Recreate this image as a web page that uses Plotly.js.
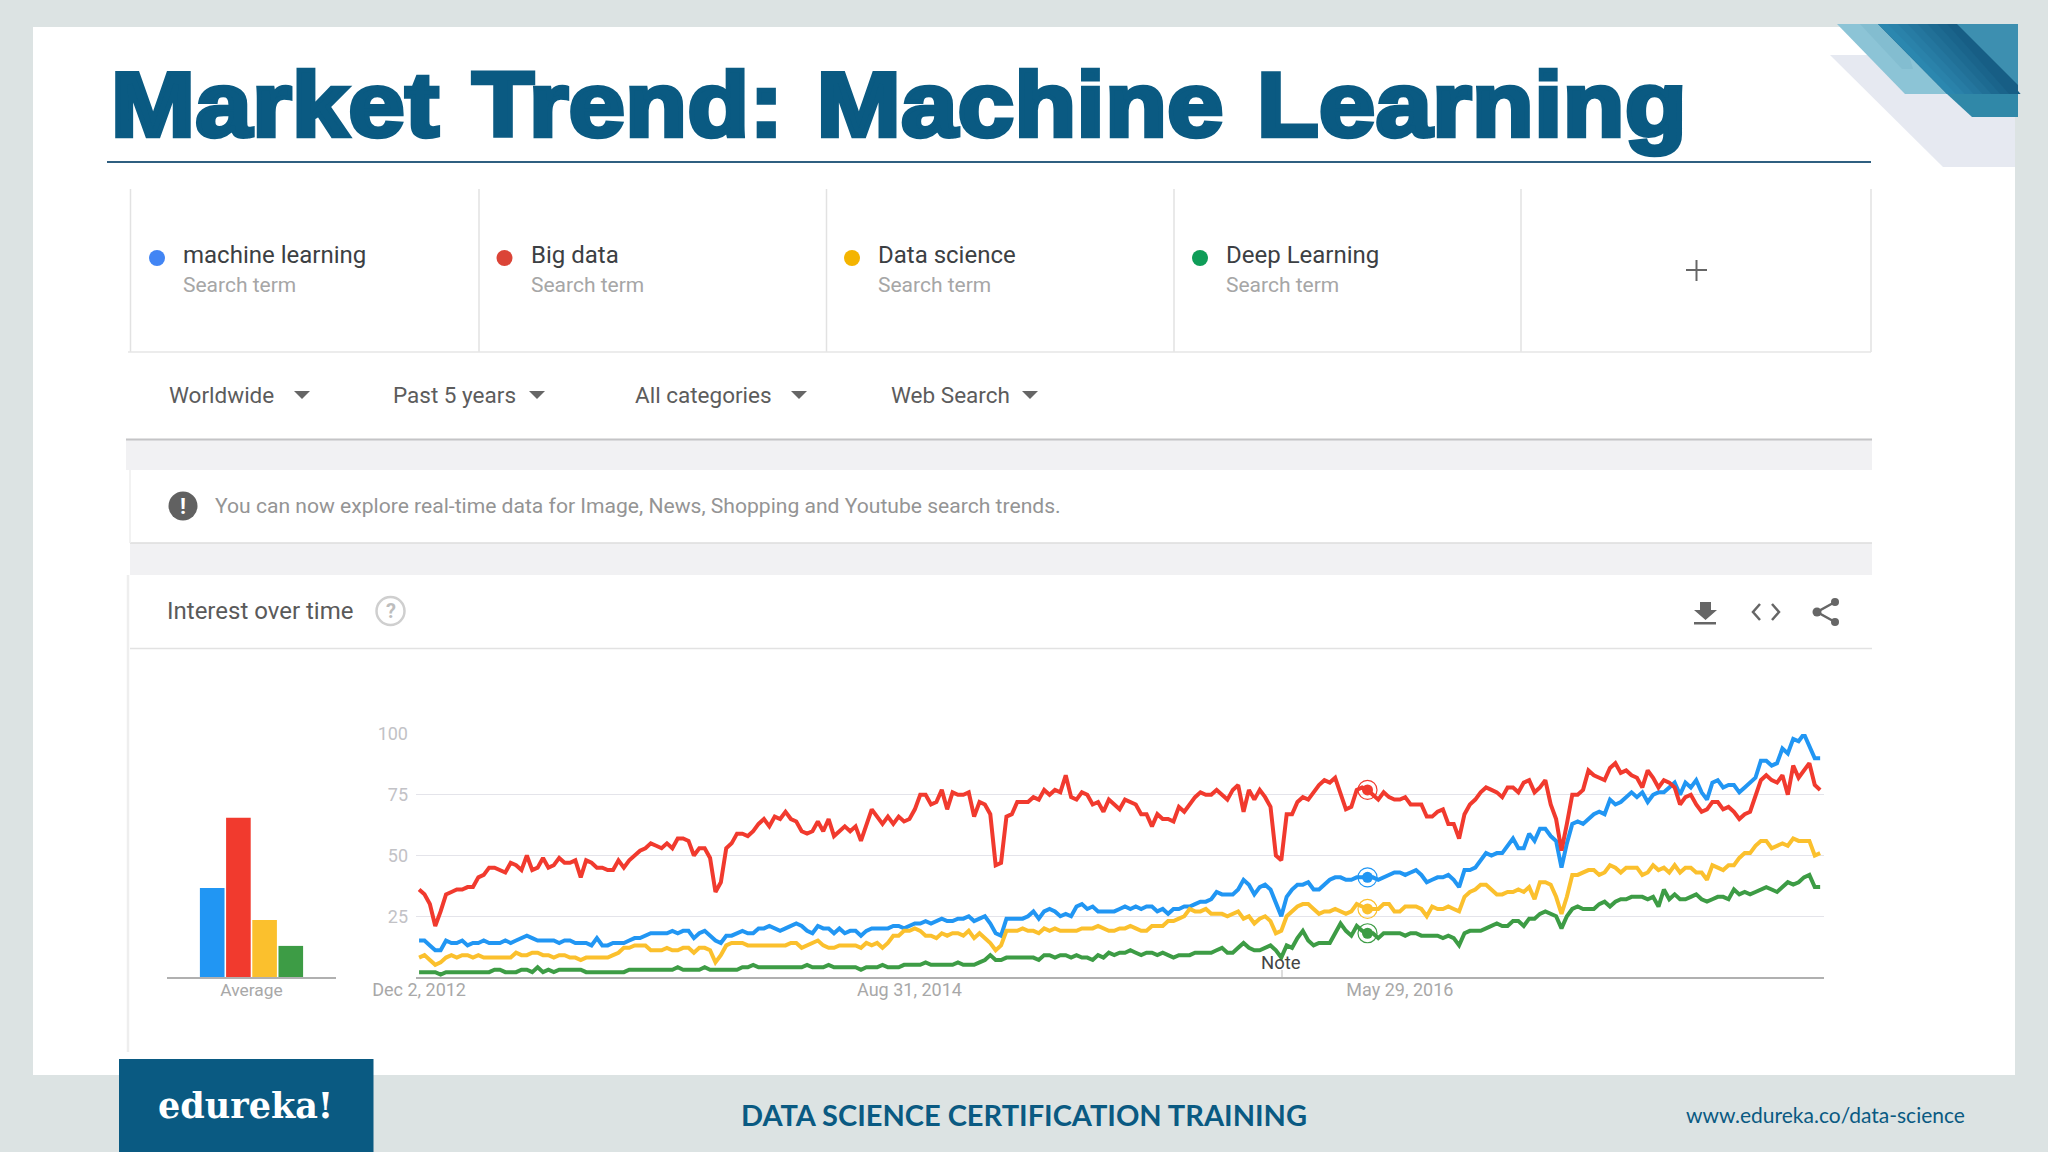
<!DOCTYPE html>
<html>
<head>
<meta charset="utf-8">
<script src="https://cdn.plot.ly/plotly-3.0.1.min.js"></script>
<style>
html,body{margin:0;padding:0;background:#dce3e3;}
#chart{width:2048px;height:1152px;}
.gtitle{stroke:#0a5a82;stroke-width:4.5px;letter-spacing:0.5px;word-spacing:4px;transform-origin:111px 0;transform:scaleX(1.12);}
</style>
</head>
<body>
<div id="chart"></div>
<script>
// ---------- Data ----------
const startDate = '2012-12-02';
const weekCount = 261;
const machineLearning = [
15,15,13,11,11,15,14,14,15,13,
14,14,15,14,14,14,15,14,15,16,
17,16,15,15,15,15,14,15,15,14,
14,14,13,16,13,13,14,14,14,15,
16,16,17,18,18,18,18,19,18,19,
19,16,18,19,17,15,14,17,17,18,
19,18,18,20,20,21,20,19,20,21,
22,21,19,18,21,20,20,18,
20,18,19,19,17,19,20,20,20,20,
21,21,20,21,22,22,23,22,23,24,
23,23,24,24,25,23,24,25,22,18,
17,24,24,24,24,25,27,24,27,28,
27,25,26,25,29,30,28,29,27,27,
27,27,28,29,28,29,28,29,29,27,
28,26,28,28,29,29,30,31,31,32,
35,34,34,34,36,40,38,34,37,38,
36,30,25,33,36,38,38,39,36,36,
38,40,41,41,40,40,41,41,41,41,
40,41,42,43,43,42,43,44,42,39,
40,41,41,42,40,37,44,44,45,48,
51,50,51,51,54,57,53,53,59,56,
61,61,58,56,45,55,63,64,63,65,
67,68,67,73,71,72,74,76,74,76,
72,75,76,76,78,80,75,80,78,81,
76,73,80,81,78,79,79,76,78,80,
82,89,89,87,88,94,92,98,97,100,
95,90,90];
const bigData = [
36,34,30,21,27,34,35,36,36,37,
37,41,42,45,45,44,43,47,46,44,
50,44,45,49,45,46,49,47,47,48,
41,48,47,45,45,44,44,48,45,48,
50,52,53,55,54,53,55,53,57,57,
56,50,53,53,49,35,39,53,55,59,
59,58,60,63,65,62,66,65,68,65,
64,60,59,60,64,60,65,58,
60,62,60,62,56,62,69,66,63,66,
63,66,64,65,69,75,75,71,72,77,
69,76,75,75,76,66,72,71,67,46,
47,66,67,72,72,72,74,73,77,75,
77,76,83,74,73,76,75,71,72,68,
73,71,69,73,72,71,67,67,62,67,
65,65,64,70,68,71,74,76,75,75,
77,75,73,77,79,68,77,73,77,74,
70,50,48,67,67,72,74,73,76,79,
81,80,82,76,69,70,77,78,77,75,
73,76,74,73,73,74,71,71,71,66,
66,68,69,63,63,57,67,71,73,76,
78,77,76,74,78,78,76,80,81,76,
78,81,71,65,52,63,75,75,77,85,
83,82,81,86,88,84,85,83,82,78,
85,82,78,81,80,78,71,74,75,71,
68,69,72,72,69,70,68,65,67,68,
74,81,83,81,80,83,75,87,82,85,
88,79,77];
const dataScience = [
8,9,7,5,6,8,9,8,9,9,
8,9,8,8,8,8,8,8,10,9,
9,10,10,9,9,8,9,9,8,8,
7,8,8,8,8,8,9,10,12,12,
13,13,13,11,11,11,12,11,11,12,
12,10,12,12,11,6,9,13,14,14,
14,13,13,13,13,13,13,13,13,14,
14,12,13,14,15,13,12,12,
13,13,13,13,12,14,13,14,12,14,
17,17,19,19,20,19,17,17,16,18,
17,18,18,17,19,16,18,16,14,11,
13,19,19,19,20,19,19,18,20,19,
20,19,19,19,19,20,20,20,21,20,
19,19,20,20,21,20,19,19,21,21,
21,23,23,24,25,28,27,27,28,26,
26,26,25,26,27,24,25,22,24,25,
23,18,19,25,27,29,30,30,28,26,
27,27,28,27,26,27,30,29,28,28,
28,30,30,27,27,29,29,29,28,25,
29,28,28,29,28,27,33,35,36,38,
38,36,34,34,35,35,36,35,37,32,
39,39,38,33,26,33,42,42,43,44,
44,42,43,46,45,43,45,45,45,42,
43,46,44,45,43,46,43,45,45,43,
43,40,46,45,44,46,46,49,51,51,
54,56,56,53,54,55,54,57,56,56,
56,50,51];
const deepLearning = [
2,2,2,2,1,2,2,2,2,2,
2,2,2,2,3,3,2,2,2,3,
3,2,4,2,3,2,3,3,3,3,
3,2,2,2,2,2,2,2,2,3,
3,3,3,3,3,3,3,3,4,3,
3,3,3,4,3,3,3,3,3,3,
4,4,5,4,4,4,4,4,4,4,
4,4,5,4,4,4,5,4,
4,4,4,4,3,4,4,4,5,4,
4,4,5,5,5,5,6,5,5,5,
5,5,6,5,5,5,6,7,9,7,
7,8,8,8,8,8,8,7,9,9,
8,9,9,8,9,8,8,7,9,8,
10,9,10,10,11,10,9,10,10,9,
10,9,8,9,9,9,10,10,10,10,
11,12,10,10,12,14,12,11,11,12,
13,11,8,13,12,16,19,15,13,14,
14,14,18,22,19,17,21,19,18,18,
16,18,18,18,18,17,18,18,17,17,
17,17,16,17,16,13,18,19,19,19,
20,21,22,21,21,23,23,21,24,24,
26,27,26,25,20,25,28,29,28,28,
28,30,31,29,31,32,32,33,33,33,
32,33,29,36,32,34,32,32,33,34,
32,31,32,33,33,32,36,34,35,34,
35,36,37,36,35,37,39,38,39,41,
42,37,37];
const averages = [36.6, 65.5, 23.5, 12.8];
const seriesNames = ['machine learning','Big data','Data science','Deep Learning'];
const lineColors = ['#2196f3','#f13a2e','#fbc02d','#3d9c45'];
const legendColors = ['#4285f4','#db4437','#f4b400','#0f9d58'];
const yTicks = [0,25,50,75,100];
const yTickLabels = ['','25','50','75','100'];
const xTicks = ['2012-12-02','2014-08-31','2016-05-29'];
const xTickLabels = ['Dec 2, 2012','Aug 31, 2014','May 29, 2016'];
const highlightWeek = 176;
const noteDate = '2015-12-27';
const filterLabels = ['Worldwide','Past 5 years','All categories','Web Search'];

// ---------- Helpers ----------
const W = 2048, H = 1152;
const px = x => x / W;
const py = y => 1 - y / H;
const DAY = 86400000;
const weeks = Array.from({length: weekCount}, (_, i) =>
  new Date(Date.parse(startDate + 'T00:00:00Z') + i * 7 * DAY).toISOString().slice(0, 10));

const shapes = [];
function rect(x0, y0, x1, y1, color) {
  shapes.push({type:'rect',xref:'paper',yref:'paper',layer:'below',x0:px(x0),x1:px(x1),y0:py(y0),y1:py(y1),fillcolor:color,line:{width:0}});
}
function line(x0, y0, x1, y1, color, width) {
  shapes.push({type:'line',xref:'paper',yref:'paper',layer:'below',x0:px(x0),x1:px(x1),y0:py(y0),y1:py(y1),line:{color:color,width:width||1}});
}
function poly(points, color, opacity) {
  const d = points.map((p, i) => (i ? 'L' : 'M') + px(p[0]) + ',' + py(p[1])).join(' ') + ' Z';
  shapes.push({type:'path',xref:'paper',yref:'paper',layer:'below',path:d,fillcolor:color,opacity:opacity===undefined?1:opacity,line:{width:0}});
}
function stroke(points, color, width) {
  const d = points.map((p, i) => (i ? 'L' : 'M') + px(p[0]) + ',' + py(p[1])).join(' ');
  shapes.push({type:'path',xref:'paper',yref:'paper',layer:'below',path:d,line:{color:color,width:width}});
}
function circle(cx, cy, r, fill, lineColor, lineWidth) {
  shapes.push({type:'circle',xref:'paper',yref:'paper',layer:'below',x0:px(cx-r),x1:px(cx+r),y0:py(cy-r),y1:py(cy+r),fillcolor:fill,line:{color:lineColor||fill,width:lineWidth===undefined?0:lineWidth}});
}
const annotations = [];
function label(text, x, y, size, color, opts) {
  opts = opts || {};
  annotations.push({text:text,xref:'paper',yref:'paper',x:px(x),y:py(y),xanchor:opts.anchor||'left',yanchor:'middle',showarrow:false,borderpad:0,
    font:{family:opts.family||'Roboto',size:size,color:color,weight:opts.weight||400}});
}

// ---------- Slide background ----------
rect(33, 27, 2015, 1075, '#ffffff');
poly([[1830,55],[2018,55],[2018,167],[1943,167]], '#e6e9f1');
poly([[1837,24],[1880,24],[1947,94],[1905,94]], '#8cc4d6');
poly([[1860,24],[1900,24],[1913,69],[1902,69]], '#7ab6c9', 0.5);
poly([[1878,24],[2018,24],[2018,94],[1947,94]], '#175e85');
const ribbon = ['#2b87af','#2a82aa','#277ca4','#24769e','#217097','#1d6a91','#1a648b','#175e85'];
ribbon.forEach((c, i) => {
  const t0 = i / ribbon.length, t1 = (i + 1.3) / ribbon.length;
  poly([[1878+79*t0,24],[1878+79*t1,24],[1947+71*t1,94],[1947+71*t0,94]], c);
});
poly([[1947,94],[2018,94],[2018,117],[1972,117]], '#3088a8');
poly([[1957,24],[2018,24],[2018,85]], '#3d8fb0');
rect(2015, 117, 2018, 167, '#dce3e3');
line(107, 162, 1871, 162, '#2f5f80', 2);
rect(33, 1075, 2048, 1152, '#dce3e3');
rect(119, 1059, 373.5, 1152, '#0a5a82');

// ---------- Search-term cards ----------
[130.5, 479, 826.5, 1174, 1521, 1871].forEach(x => line(x, 189, x, 352, '#e2e2e2', 1.5));
line(128, 352, 1871, 352, '#e6e6e6', 1.5);
const cardX = [157, 504.5, 852, 1200];
seriesNames.forEach((name, i) => {
  circle(cardX[i], 258, 8, legendColors[i]);
  label(name, cardX[i] + 25, 255, 24, '#3c4043');
  label('Search term', cardX[i] + 25, 285, 21, '#a6a6a6');
});
line(1686, 270, 1707, 270, '#666666', 2);
line(1696.5, 260, 1696.5, 281, '#666666', 2);

// ---------- Filters ----------
const filterX = [168, 391.5, 633.5, 889.5];
const arrowX = [302, 537, 799, 1030];
filterLabels.forEach((t, i) => {
  label(t, filterX[i], 394.5, 22.5, '#5c5c5c');
  poly([[arrowX[i]-8,391],[arrowX[i]+8,391],[arrowX[i],399]], '#666666');
});

// ---------- Grey bands and notice ----------
rect(126, 439, 1872, 470, '#f1f1f3');
line(126, 439.5, 1872, 439.5, '#c4c4c6', 2);
rect(130, 543, 1872, 575, '#f1f1f3');
line(130, 543, 1872, 543, '#dddddd', 1.5);
line(130, 470, 130, 543, '#eeeeee', 1.5);
circle(183, 506, 14.5, '#616161');
label('!', 183, 506, 22, '#ffffff', {anchor:'center', weight:700});
label('You can now explore real-time data for Image, News, Shopping and Youtube search trends.', 214, 505.5, 21.1, '#949494');

// ---------- Interest over time header ----------
label('Interest over time', 165.5, 611, 24, '#5a5a5a');
circle(390.5, 611, 14, 'rgba(0,0,0,0)', '#cfcfcf', 2.5);
label('?', 390.5, 611, 20, '#bdbdbd', {anchor:'center', weight:700});
line(130, 648.5, 1872, 648.5, '#e2e2e2', 1.5);
line(128, 575, 128, 1052, '#eeeeee', 2.5);
poly([[1700,602],[1711,602],[1711,610],[1717,610],[1705.5,620],[1694,610],[1700,610]], '#666666');
rect(1694, 622, 1716, 624.5, '#666666');
stroke([[1760,604],[1753,612],[1760,620]], '#666666', 2.5);
stroke([[1772,604],[1779,612],[1772,620]], '#666666', 2.5);
stroke([[1835,602],[1817,612],[1835,622]], '#666666', 2.5);
circle(1835, 602, 4, '#666666');
circle(1817, 612, 4.5, '#666666');
circle(1835, 622, 4, '#666666');

// ---------- Note tick ----------
line(1282, 970, 1282, 977, '#bbbbbb', 1);

// ---------- Footer text ----------
label('edureka!', 245.5, 1105, 35, '#ffffff', {anchor:'center', family:'DejaVu Serif', weight:700});
label('DATA SCIENCE CERTIFICATION TRAINING', 1024, 1114, 29, '#0a5a82', {anchor:'center', family:'Lato', weight:700});
label('www.edureka.co/data-science', 1966, 1114, 21, '#0a5a82', {anchor:'right', family:'Lato'});

annotations.push({text:'Note',xref:'x',yref:'paper',x:noteDate,y:py(963),xanchor:'center',yanchor:'middle',showarrow:false,
  font:{family:'Roboto',size:18.5,color:'#444444'}});

// ---------- Traces ----------
const lineSeries = [machineLearning, bigData, dataScience, deepLearning];
const traces = [];
lineSeries.forEach((vals, i) => {
  traces.push({type:'scatter',mode:'lines',name:seriesNames[i],x:weeks.slice(0, vals.length),y:vals,
    xaxis:'x',yaxis:'y',line:{color:lineColors[i],width:4,shape:'linear'},showlegend:false,hoverinfo:'x+y+name'});
});
lineSeries.forEach((vals, i) => {
  traces.push({type:'scatter',mode:'markers',x:[weeks[highlightWeek]],y:[vals[highlightWeek]],xaxis:'x',yaxis:'y',
    marker:{color:lineColors[i],size:11,line:{width:0}},showlegend:false,hoverinfo:'skip'});
  traces.push({type:'scatter',mode:'markers',x:[weeks[highlightWeek]],y:[vals[highlightWeek]],xaxis:'x',yaxis:'y',
    marker:{symbol:'circle-open',color:lineColors[i],size:19,line:{width:1.2,color:lineColors[i]}},showlegend:false,hoverinfo:'skip'});
});
averages.forEach((v, i) => {
  traces.push({type:'bar',name:seriesNames[i],x:['Average'],y:[v],xaxis:'x2',yaxis:'y2',marker:{color:lineColors[i],line:{width:0}},showlegend:false});
});

// ---------- Layout ----------
const layout = {
  width: W, height: H,
  margin: {l:0,r:0,t:0,b:0,pad:0},
  paper_bgcolor: '#dce3e3',
  plot_bgcolor: 'rgba(0,0,0,0)',
  title: {text:'Market Trend: Machine Learning', x:px(111), xanchor:'left', xref:'paper', y:py(105), yanchor:'middle',
    font:{family:'Liberation Sans',size:90,weight:700,color:'#0a5a82'}, pad:{l:0,r:0,t:0,b:0}},
  showlegend: false,
  barmode: 'group', bargap: 0.38, bargroupgap: 0.06,
  xaxis: {domain:[px(416),px(1824)], type:'date', anchor:'y', range:['2012-11-28','2017-12-01'],
    tickmode:'array', tickvals:xTicks, ticktext:xTickLabels, showgrid:false, zeroline:false,
    showline:true, linecolor:'#b0b0b0', linewidth:1.5, ticks:'', ticklabelstandoff:-4,
    tickfont:{family:'Roboto',size:18,color:'#a8a8a8'}},
  yaxis: {domain:[py(977),py(734)], anchor:'x', range:[0,100], tickmode:'array', tickvals:yTicks, ticktext:yTickLabels,
    showgrid:true, gridcolor:'#e4e4ea', gridwidth:1.3, zeroline:false, showline:false, ticks:'',
    ticklabelstandoff:7, tickfont:{family:'Roboto',size:18,color:'#c2c2c6'}},
  xaxis2: {domain:[px(167),px(336)], type:'category', anchor:'y2', showgrid:false, zeroline:false,
    showline:true, linecolor:'#b0b0b0', linewidth:1.5, ticks:'', ticklabelstandoff:-4,
    tickfont:{family:'Roboto',size:17.4,color:'#a8a8a8'}},
  yaxis2: {domain:[py(977),py(734)], anchor:'x2', range:[0,100], visible:false},
  shapes: shapes,
  annotations: annotations
};

Plotly.newPlot('chart', traces, layout, {displayModeBar:false, responsive:false});
</script>
</body>
</html>
